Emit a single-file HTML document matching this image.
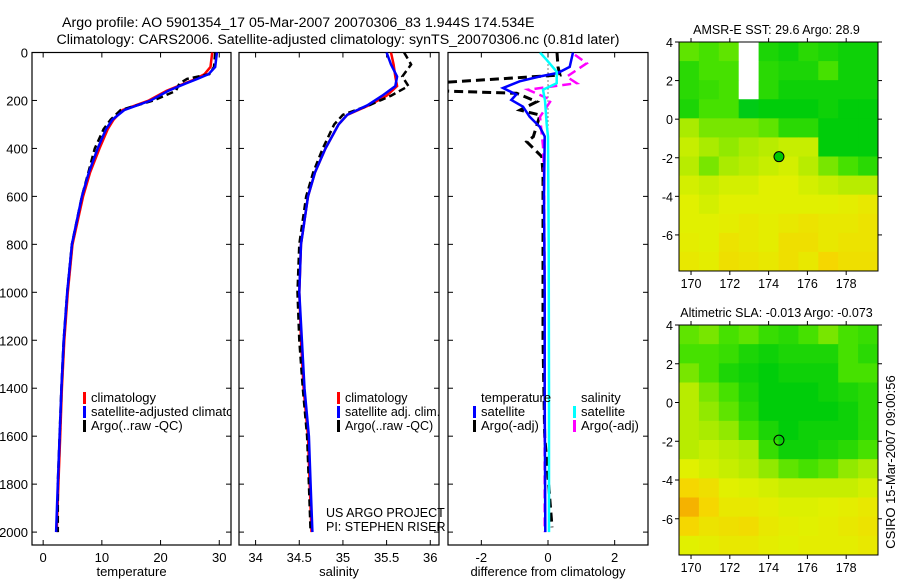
<!DOCTYPE html>
<html><head><meta charset="utf-8"><style>
body{margin:0;background:#fff;}
svg{display:block;font-family:"Liberation Sans",sans-serif;}
text{fill:#000;}
</style></head><body>
<svg id="fig" width="900" height="580" viewBox="0 0 900 580" xmlns="http://www.w3.org/2000/svg">
<text x="62" y="27" font-size="14.2">Argo profile: AO 5901354_17 05-Mar-2007 20070306_83 1.944S 174.534E</text>
<text x="338" y="44" font-size="14.2" text-anchor="middle">Climatology: CARS2006. Satellite-adjusted climatology: synTS_20070306.nc (0.81d later)</text>
<g id="p1"></g>
<g id="p2"></g>
<g id="p3"></g>
<g id="m1"></g>
<g id="m2"></g>
<text transform="translate(895,462) rotate(-90)" font-size="13" text-anchor="middle">CSIRO 15-Mar-2007 09:00:56</text>
</svg>
<script>
// ---- profile data ----
const tDepths = [0,60,90,110,130,160,200,240,280,320,400,500,600,800,1000,1200,1400,1600,1800,2000];
const tClim   = [28.8,28.5,27.5,26,24,21,18,13.5,12,11,9.6,8,6.8,5,4.2,3.6,3.2,2.9,2.6,2.3];
const tSat    = [29.6,29.3,28.2,26.3,24.2,21.3,18.3,13.8,11.8,10.7,9.3,7.8,6.6,4.9,4.1,3.5,3.1,2.8,2.5,2.2];
const tArgo   = [29.3,29.1,28.3,24.5,23.2,22.6,18.8,13.2,11.5,10.3,8.8,7.7,6.6,4.9,4.1,3.5,3.1,2.8,2.5,2.5];
const sDepths = [0,50,100,140,180,220,260,300,400,500,600,800,1000,1200,1400,1600,1800,2000];
const sClim   = [35.55,35.58,35.6,35.62,35.5,35.3,35.05,34.95,34.8,34.68,34.6,34.52,34.5,34.52,34.55,34.6,34.62,34.64];
const sSat    = [35.5,35.55,35.62,35.6,35.45,35.28,35.05,34.95,34.8,34.68,34.6,34.52,34.5,34.53,34.56,34.61,34.63,34.65];
const sArgo   = [35.7,35.78,35.68,35.75,35.55,35.3,35.0,34.9,34.77,34.66,34.58,34.5,34.48,34.5,34.54,34.59,34.61,34.63];
const dtSatDepths = [0,60,85,100,120,148,175,198,226,268,310,350,600,1000,1400,2000];
const dtSat       = [0.75,0.65,0.3,-0.25,-0.85,-1.35,-0.95,-1.1,-0.75,-0.55,-0.25,-0.1,-0.12,-0.1,-0.1,-0.08];
const dtArgoDepths = [0,60,94,128,159,170,205,240,261,351,372,434,503,800,1200,1600,1940,1980];
const dtArgo       = [0.27,0.3,0.36,-3.5,-3.5,-0.94,-0.34,-0.84,-0.24,-0.44,-0.64,-0.19,-0.15,-0.15,-0.15,-0.1,0.1,0.12];
const dsSatDepths = [0,31,80,128,155,200,300,350,800,1400,2000];
const dsSat       = [-0.24,-0.04,0.26,0.26,-0.15,-0.09,-0.04,0.0,0.02,0.03,0.03];
const dsArgoDepths = [10,45,73,101,128,155,198,268,390,500,1000,1500,2000];
const dsArgo       = [0.81,1.16,0.86,0.56,0.86,-0.6,0.1,-0.24,-0.15,-0.12,-0.1,-0.1,-0.1];
const depthTicks = [0,200,400,600,800,1000,1200,1400,1600,1800,2000];
const tTicks = [0,10,20,30];
const sTicks = [34,34.5,35,35.5,36];
const dTicks = [-2,0,2];
// ---- map data (rows north->south, cols west->east) ----
const sstGrid = [
 [0.35,0.3,0.35,-1,0.15,0.1,0.2,0.15,0.1,0.1],
 [0.2,0.3,0.3,-1,0.2,0.15,0.15,0.3,0.1,0.1],
 [0.2,0.25,0.3,-1,0.2,0.1,0.1,0.1,0.1,0.1],
 [0.15,0.3,0.3,0.03,0.05,0.05,0.05,0.1,0.05,0.05],
 [0.5,0.4,0.4,0.4,0.35,0.2,0.2,0.05,0.05,0.05],
 [0.6,0.5,0.45,0.5,0.55,0.6,0.6,0.05,0.05,0.05],
 [0.55,0.4,0.5,0.55,0.6,0.65,0.55,0.4,0.3,0.2],
 [0.65,0.6,0.65,0.65,0.7,0.7,0.65,0.6,0.55,0.55],
 [0.7,0.65,0.7,0.7,0.7,0.7,0.7,0.7,0.72,0.75],
 [0.7,0.7,0.72,0.75,0.72,0.75,0.78,0.75,0.75,0.78],
 [0.72,0.7,0.78,0.75,0.72,0.8,0.8,0.75,0.78,0.78],
 [0.75,0.72,0.8,0.78,0.75,0.8,0.75,0.85,0.8,0.8]];
const slaGrid = [
 [0.35,0.4,0.3,0.35,0.25,0.2,0.3,0.4,0.3,0.25],
 [0.3,0.3,0.25,0.15,0.1,0.15,0.15,0.15,0.3,0.2],
 [0.4,0.3,0.15,0.1,0.05,0.1,0.1,0.1,0.3,0.3],
 [0.55,0.4,0.3,0.15,0.05,0.05,0.05,0.1,0.15,0.2],
 [0.55,0.45,0.35,0.2,0.05,0.05,0.05,0.05,0.1,0.2],
 [0.55,0.5,0.45,0.3,0.15,0.05,0.1,0.1,0.1,0.2],
 [0.55,0.6,0.55,0.5,0.25,0.1,0.1,0.15,0.2,0.3],
 [0.7,0.65,0.6,0.55,0.45,0.35,0.3,0.35,0.45,0.5],
 [0.85,0.8,0.7,0.68,0.65,0.6,0.6,0.6,0.6,0.65],
 [0.95,0.85,0.75,0.75,0.72,0.68,0.68,0.7,0.72,0.75],
 [0.85,0.78,0.8,0.82,0.75,0.72,0.7,0.72,0.75,0.78],
 [0.7,0.72,0.75,0.75,0.72,0.7,0.72,0.72,0.72,0.75]];
const lonTicks = [170,172,174,176,178];
const latTicks = [4,2,0,-2,-4,-6];
const floatLon = 174.534, floatLat = -1.944;

const NS='http://www.w3.org/2000/svg';
function mk(parent,tag,attrs){const e=document.createElementNS(NS,tag);for(const k in attrs)e.setAttribute(k,attrs[k]);parent.appendChild(e);return e;}
const yTop=52.5, yBot=545, pxPerM=0.2398;
const yD=d=>yTop+d*pxPerM;

function panel(g,x0,x1,xmin,xmax,xticks,xlabel,showY,clipId){
  const xs=v=>x0+(v-xmin)/(xmax-xmin)*(x1-x0);
  const frame=mk(g,'rect',{x:x0,y:yTop,width:x1-x0,height:yBot-yTop,fill:'none',stroke:'#000','stroke-width':1.2});
  
  
  const cp=mk(g,'clipPath',{id:clipId});mk(cp,'rect',{x:x0,y:yTop,width:x1-x0,height:yBot-yTop});
  xticks.forEach(v=>{
    mk(g,'line',{x1:xs(v),x2:xs(v),y1:yBot,y2:yBot-5,stroke:'#000'});
    mk(g,'line',{x1:xs(v),x2:xs(v),y1:yTop,y2:yTop+5,stroke:'#000'});
    const t=mk(g,'text',{x:xs(v),y:yBot+17,'font-size':13,'text-anchor':'middle'});t.textContent=v;
    
    
  });
  depthTicks.forEach(d=>{
    mk(g,'line',{x1:x0,x2:x0+5,y1:yD(d),y2:yD(d),stroke:'#000'});
    mk(g,'line',{x1:x1,x2:x1-5,y1:yD(d),y2:yD(d),stroke:'#000'});
    if(showY){const t=mk(g,'text',{x:x0-4,y:yD(d)+5,'font-size':13,'text-anchor':'end'});t.textContent=d;
      
      }
  });
  const xl=mk(g,'text',{x:(x0+x1)/2,y:576,'font-size':13,'text-anchor':'middle'});xl.textContent=xlabel;
  
  
  return xs;
}
function series(g,xs,depths,vals,color,dash,name,clipId,w){
  const pts=depths.map((d,i)=>xs(vals[i]).toFixed(1)+','+yD(d).toFixed(1)).join(' ');
  const p=mk(g,'polyline',{points:pts,fill:'none',stroke:color,'stroke-width':w||2.5,'clip-path':'url(#'+clipId+')'});
  if(dash)p.setAttribute('stroke-dasharray',dash);
  
  
}
function legend(g,x,y,items,clipId,fs){
  items.forEach((it,i)=>{
    mk(g,'rect',{x:x,y:y+i*14-10,width:3,height:12,fill:it[1]});
    const t=mk(g,'text',{x:x+8,y:y+i*14,'font-size':fs||13});t.textContent=it[0];
    if(clipId)t.setAttribute('clip-path','url(#'+clipId+')');
    
    
  });
}
// panel 1
const g1=document.getElementById('p1');
const xT=panel(g1,32,231,-1.9,32,tTicks,'temperature',true,'c1');
series(g1,xT,tDepths,tClim,'#ff0000',null,'temp-climatology-line','c1');
series(g1,xT,tDepths,tArgo,'#000',"7,4",'temp-argo-line','c1');
series(g1,xT,tDepths,tSat,'#0000ff',null,'temp-satellite-line','c1');
legend(g1,83,402,[['climatology','#f00'],['satellite-adjusted climatology','#00f'],['Argo(..raw -QC)','#000']],'c1');
// panel 2
const g2=document.getElementById('p2');
const xS=panel(g2,239,439,33.81,36.1,sTicks,'salinity',false,'c2');
series(g2,xS,sDepths,sClim,'#ff0000',null,'sal-climatology-line','c2');
series(g2,xS,sDepths,sArgo,'#000',"7,4",'sal-argo-line','c2');
series(g2,xS,sDepths,sSat,'#0000ff',null,'sal-satellite-line','c2');
legend(g2,337,402,[['climatology','#f00'],['satellite adj. clim.','#00f'],['Argo(..raw -QC)','#000']],null,12.5);
{const a=mk(g2,'text',{x:326,y:517,'font-size':12.5});a.textContent='US ARGO PROJECT';
 
 
 const b=mk(g2,'text',{x:326,y:531,'font-size':12.5});b.textContent='PI: STEPHEN RISER';
 
 }
// panel 3
const g3=document.getElementById('p3');
const xDf=panel(g3,448,648,-3.0,3.0,dTicks,'difference from climatology',false,'c3');
mk(g3,'line',{x1:xDf(0),x2:xDf(0),y1:yTop,y2:yD(380),stroke:'#000','stroke-dasharray':'1,3'});
series(g3,xDf,dtArgoDepths,dtArgo,'#000',"9,5",'dt-argo-line','c3',3);
series(g3,xDf,dsArgoDepths,dsArgo,'#ff00ff',"9,5",'ds-argo-line','c3');
series(g3,xDf,dtSatDepths,dtSat,'#0000ff',null,'dt-satellite-line','c3');
series(g3,xDf,dsSatDepths,dsSat,'#00ffff',null,'ds-satellite-line','c3');
{const t=mk(g3,'text',{x:481,y:402,'font-size':13});t.textContent='temperature';
 
 
 const s=mk(g3,'text',{x:581,y:402,'font-size':13});s.textContent='salinity';
 
 }
legend(g3,473,416,[['satellite','#00f'],['Argo(-adj)','#000']]);
legend(g3,573,416,[['satellite','#0ff'],['Argo(-adj)','#f0f']]);

// maps
function cmap(v){
  if(v<0)return '#ffffff';
  const stops=[[0,[0,200,40]],[0.05,[0,205,10]],[0.3,[70,225,0]],[0.5,[170,235,0]],[0.7,[225,240,0]],[0.85,[245,215,0]],[1,[245,160,0]]];
  for(let i=1;i<stops.length;i++){if(v<=stops[i][0]){const a=stops[i-1],b=stops[i],f=(v-a[0])/(b[0]-a[0]);
    return 'rgb('+a[1].map((c,k)=>Math.round(c+(b[1][k]-c)*f)).join(',')+')';}}
  return 'rgb(245,160,0)';
}
function map(g,y0,y1,grid,title,filled){
  const x0=679,x1=878,lonMin=169.38,lonMax=179.64,latMax=4.0,latMin=-7.87;
  const xs=l=>x0+(l-lonMin)/(lonMax-lonMin)*(x1-x0);
  const ys=l=>y0+(latMax-l)/(latMax-latMin)*(y1-y0);
  const nr=grid.length,nc=grid[0].length,cw=(x1-x0)/nc,ch=(y1-y0)/nr;
  grid.forEach((row,r)=>row.forEach((v,c)=>{
    const cell=mk(g,'rect',{x:x0+c*cw,y:y0+r*ch,width:cw+0.5,height:ch+0.5,fill:cmap(v)});
    
    
  }));
  const fr=mk(g,'rect',{x:x0,y:y0,width:x1-x0,height:y1-y0,fill:'none',stroke:'#000','stroke-width':1});
  
  
  lonTicks.forEach(l=>{
    mk(g,'line',{x1:xs(l),x2:xs(l),y1:y1,y2:y1+4,stroke:'#000'});
    mk(g,'line',{x1:xs(l),x2:xs(l),y1:y0,y2:y0-4,stroke:'#000'});
    const t=mk(g,'text',{x:xs(l),y:y1+17,'font-size':12.5,'text-anchor':'middle'});t.textContent=l;
    
    
  });
  latTicks.forEach(l=>{
    mk(g,'line',{x1:x0-4,x2:x0,y1:ys(l),y2:ys(l),stroke:'#000'});
    mk(g,'line',{x1:x1,x2:x1+4,y1:ys(l),y2:ys(l),stroke:'#000'});
    const t=mk(g,'text',{x:x0-6,y:ys(l)+5,'font-size':12.5,'text-anchor':'end'});t.textContent=l;
    
    
  });
  const c=mk(g,'circle',{cx:xs(floatLon),cy:ys(floatLat),r:5,fill:filled?'#00c800':'none',stroke:'#000','stroke-width':1});
  
  
  const tt=mk(g,'text',{x:(x0+x1)/2-2,y:y0-8,'font-size':12.5,'text-anchor':'middle'});tt.textContent=title;
  
  
}
map(document.getElementById('m1'),42,271,sstGrid,'AMSR-E SST: 29.6 Argo: 28.9',true);
map(document.getElementById('m2'),325,555,slaGrid,'Altimetric SLA: -0.013 Argo: -0.073',false);
</script>
</body></html>
